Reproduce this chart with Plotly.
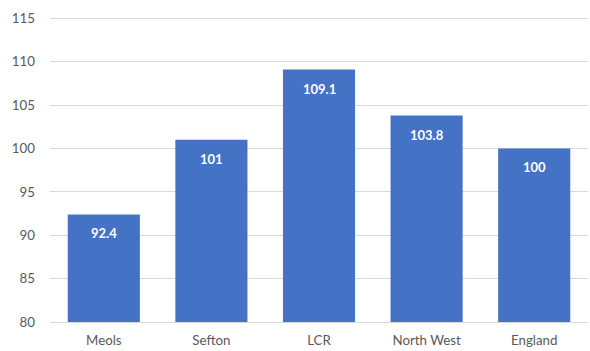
import plotly.graph_objects as go

categories = ["Meols", "Sefton", "LCR", "North West", "England"]
values = [92.4, 101, 109.1, 103.8, 100]
value_labels = ["92.4", "101", "109.1", "103.8", "100"]
y_ticks = [80, 85, 90, 95, 100, 105, 110, 115]
base_value = 80

fig = go.Figure()
fig.add_trace(go.Bar(
    x=categories, y=[v - base_value for v in values], base=base_value,
    marker=dict(color="#4472C4", line=dict(width=0)),
    hoverinfo="skip",
))

for c, v, t in zip(categories, values, value_labels):
    fig.add_annotation(x=c, y=v, text="<b>%s</b>" % t, showarrow=False,
                       yshift=-19, yanchor="middle",
                       font=dict(family="Lato", size=13, color="white"))

fig.update_layout(
    width=590, height=351,
    margin=dict(l=50, r=2, t=14, b=29, autoexpand=False),
    paper_bgcolor="white", plot_bgcolor="white",
    bargap=0.33, showlegend=False,
    font=dict(family="Lato", size=13.3, color="#595959"),
    xaxis=dict(showgrid=False, showline=True, linecolor="#d9d9d9", linewidth=1,
               ticks="", ticklabelstandoff=6, automargin=False),
    yaxis=dict(range=[80, 115.5], tickvals=y_ticks, showgrid=True,
               gridcolor="#d9d9d9", gridwidth=1, zeroline=False,
               showline=False, ticks="", ticklabelstandoff=14, automargin=False),
)
fig.write_html("out.html", config={"displayModeBar": False},
               post_script="document.body.style.margin='0';document.body.style.padding='0';")
